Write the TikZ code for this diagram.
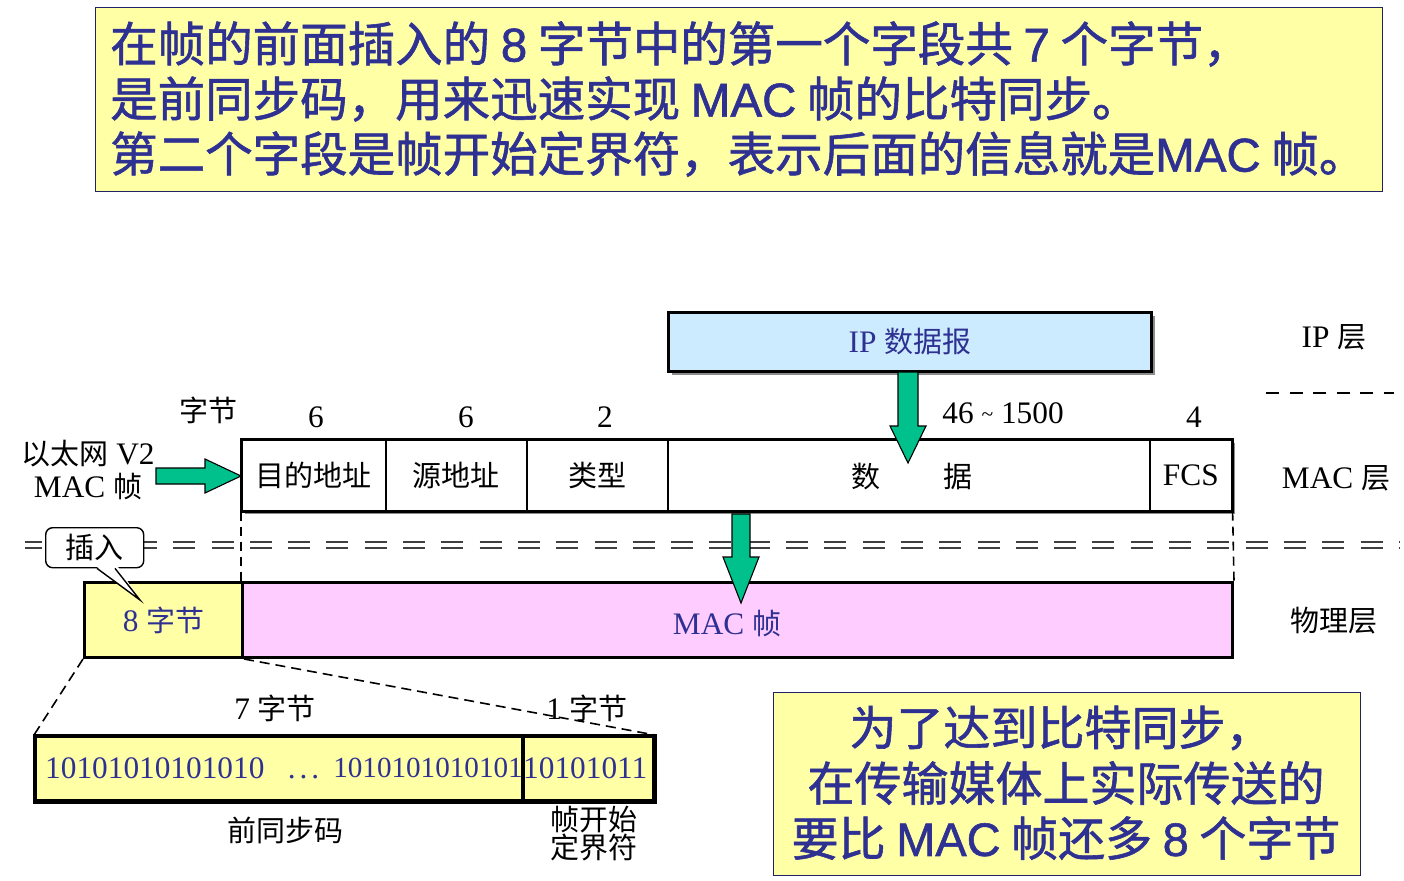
\documentclass[tikz,border=0pt]{standalone}
\usepackage{fontspec}
\setmainfont{Liberation Serif}[Scale=1.08]
\newfontfamily\zh{Noto Sans CJK SC}
\newfontfamily\hei{Noto Sans CJK SC}[FakeBold=1.2]
\newfontfamily\heilat{Liberation Sans}[FakeBold=1.2]
\usetikzlibrary{calc}
\definecolor{navy}{HTML}{2E3192}
\definecolor{boxyellow}{HTML}{FFFFA6}
\definecolor{pinkfill}{HTML}{FFCCFF}
\definecolor{ipblue}{HTML}{CCEBFF}
\definecolor{agreen}{HTML}{00C08C}
\definecolor{shadowgray}{HTML}{8C8C8C}
\begin{document}
\begin{tikzpicture}[x=1pt,y=-1pt,
  lbl/.style={font=\fontsize{29}{31}\selectfont, inner sep=0pt, align=center},
  toptext/.style={font=\hei\fontsize{47.5}{55}\selectfont, text=navy, inner sep=0pt, anchor=west},
  notetext/.style={font=\hei\fontsize{47}{55}\selectfont, text=navy, inner sep=0pt},
  notebox/.style={draw=navy!70!black, line width=0.8pt, fill=boxyellow, inner sep=0pt, anchor=north west},
  cell/.style={draw=black, line width=1.6pt, minimum height=71pt, inner sep=0pt, anchor=north west, fill=white, font=\fontsize{29}{31}\selectfont},
  bigbox/.style={draw=black, line width=3pt, inner sep=0pt, anchor=north west},
  shadowbox/.style={fill=shadowgray, draw=none, inner sep=0pt, anchor=north west},
  fat/.style={fill=agreen, draw=black, line width=1.1pt, line join=miter},
  ddash/.style={draw=black!75, line width=1.7pt, dash pattern=on 22pt off 16.3pt},
  vdash/.style={draw=black, line width=1.6pt, dash pattern=on 9pt off 6pt},
  zoomdash/.style={draw=black, line width=1.6pt, dash pattern=on 10pt off 6pt},
]
\fill[white] (0,0) rectangle (1404,880);
\useasboundingbox (0,0) rectangle (1404,880);

% ---------- top note ----------
\node[notebox, minimum width=1287pt, minimum height=184pt] (topnote) at (95,7) {};
\node[toptext] (t1) at (110,44) {在帧的前面插入的 {\heilat 8} 字节中的第一个字段共 {\heilat 7} 个字节，};
\node[toptext] (t2) at (110,99) {是前同步码，用来迅速实现 {\heilat MAC} 帧的比特同步。};
\node[toptext] (t3) at (110,154) {第二个字段是帧开始定界符，表示后面的信息就是{\heilat MAC} 帧。};

% ---------- IP layer ----------
\node[shadowbox, minimum width=483pt, minimum height=59pt] (ipsh) at (672,316) {};
\node[bigbox, fill=ipblue, minimum width=483pt, minimum height=59pt, font=\fontsize{29}{31}\selectfont, text=navy] (ip) at (667,311) {IP {\zh 数据报}};
\node[lbl] (iplayer) at (1334,337) {IP {\zh 层}};
\coordinate (ipdA) at (1266,393);
\coordinate (ipdB) at (1394,393);
\draw[draw=black, line width=1.6pt, dash pattern=on 13pt off 10.5pt] (ipdA) -- (ipdB);

% ---------- MAC frame ----------
\node[shadowbox, minimum width=990pt, minimum height=71pt] (macsh) at (245,443) {};
\node[cell, minimum width=144pt] (dst) at (241,439) {\zh 目的地址};
\node[cell, minimum width=141pt] (src) at (385,439) {\zh 源地址};
\node[cell, minimum width=141pt] (typ) at (526,439) {\zh 类型};
\node[cell, minimum width=482pt] (dat) at (667,439) {};
\node[cell, minimum width=82pt] (fcs) at (1149,439) {FCS};
\node[lbl] (shu) at (866,477) {\zh 数};
\node[lbl] (ju) at (958,477) {\zh 据};
\draw[line width=3pt] (dst.north west) rectangle (fcs.south east);

% byte counts
\node[lbl] (zj) at (208,410) {\zh 字节};
\node[lbl] (n1) at (316,417) {6};
\node[lbl] (n2) at (466,417) {6};
\node[lbl] (n3) at (605,417) {2};
\node[lbl] (n4) at (1003,413) {46 \raisebox{2pt}{\fontsize{20}{20}\selectfont\char"7E} 1500};
\node[lbl] (n5) at (1194,417) {4};

\node[lbl] (eth1) at (88,454) {{\zh 以太网} V2};
\node[lbl] (eth2) at (88,487) {MAC {\zh 帧}};
\node[lbl] (maclayer) at (1336,478) {MAC {\zh 层}};

% horizontal fat arrow into frame
\coordinate (hs) at (156,476);
\draw[fat] ($(hs)+(0,-8)$) -- ($(hs)+(49,-8)$) -- ($(hs)+(49,-17)$) -- (dst.west |- hs) -- ($(hs)+(49,17)$) -- ($(hs)+(49,8)$) -- ($(hs)+(0,8)$) -- cycle;

% fat arrow IP -> data
\coordinate (va) at (908,372);
\draw[fat] ($(va)+(-10,0)$) -- ($(va)+(-10,54)$) -- ($(va)+(-18,54)$) -- ($(va)+(0,91)$) -- ($(va)+(18,54)$) -- ($(va)+(10,54)$) -- ($(va)+(10,0)$) -- cycle;

% ---------- layer separator ----------
\coordinate (sepA) at (25,542);
\coordinate (sepB) at (1400,542);
\draw[ddash, dash phase=5pt] (sepA) -- (sepB);
\draw[ddash, dash phase=5pt] ($(sepA)+(0,6)$) -- ($(sepB)+(0,6)$);

% ---------- physical layer ----------
\node[bigbox, fill=boxyellow, minimum width=158pt, minimum height=75pt, font=\fontsize{29}{31}\selectfont, text=navy] (pre8) at (83,581) {8 {\zh 字节}};
\node[bigbox, fill=pinkfill, minimum width=990pt, minimum height=75pt] (phy) at (241,581) {};
\node[lbl, text=navy] (phytext) at (727,624) {MAC {\zh 帧}};
\node[lbl] (phylayer) at (1334,621) {\zh 物理层};

% vertical dashed guides
\draw[vdash] (dst.south west) -- (phy.north west);
\draw[vdash] (fcs.south east) -- (phy.north east);

% fat arrow frame -> physical
\coordinate (vb) at (741,514);
\draw[fat] ($(vb)+(-9,0)$) -- ($(vb)+(-9,43)$) -- ($(vb)+(-18,43)$) -- ($(vb)+(0,89)$) -- ($(vb)+(18,43)$) -- ($(vb)+(9,43)$) -- ($(vb)+(9,0)$) -- cycle;

% callout
\node[draw=black, line width=1.4pt, fill=white, rounded corners=7pt, minimum width=98pt, minimum height=40pt, inner sep=0pt, anchor=north west, font=\zh\fontsize{29}{31}\selectfont] (ins) at (45,527) {插入};
\coordinate (instip) at (140,600);
\fill[white] ($(ins.south west)+(50,-3)$) -- (instip) -- ($(ins.south west)+(72,-3)$) -- cycle;
\draw[line width=1.4pt, line join=miter] ($(ins.south west)+(52,0)$) -- (instip) -- ($(ins.south west)+(70,0)$);

% ---------- zoomed preamble ----------
\node[bigbox, fill=boxyellow, minimum width=488pt, minimum height=64pt] (pa) at (34,735) {};
\node[bigbox, fill=boxyellow, minimum width=130pt, minimum height=64pt] (sfd) at (522,735) {};
\node[lbl, text=navy, anchor=west] (bitsA) at (45,768) {10101010101010};
\node[lbl, text=navy, anchor=base west] (dots) at ([xshift=23pt]bitsA.base east) {.\hspace{4pt}.\hspace{4pt}.};
\node[lbl, text=navy, anchor=east, font=\fontsize{27}{31}\selectfont] (bitsB) at (523,768) {1010101010101};
\node[lbl, text=navy, anchor=west] (sfdbits) at (523,768) {10101011};
\draw[line width=3pt] (pa.north west) rectangle (sfd.south east);
\draw[line width=1.6pt] (sfd.north west) -- (sfd.south west);
\draw[zoomdash] (pre8.south west) -- (pa.north west);
\draw[zoomdash] (pre8.south east) -- (sfd.north east);
\node[lbl] (b7) at (275,708) {7 {\zh 字节}};
\node[lbl] (b1) at (587,708) {1 {\zh 字节}};
\node[lbl, font=\zh\fontsize{29}{31}\selectfont] (pname) at (285,830) {前同步码};
\node[lbl, font=\zh\fontsize{29}{31}\selectfont] (sname) at (594,834) {帧开始\\[-3pt]定界符};

% ---------- bottom note ----------
\node[notebox, minimum width=587pt, minimum height=183pt] (note) at (773,692) {};
\node[notetext] (n1l) at (1061,728) {为了达到比特同步，};
\node[notetext] (n2l) at (1066,783) {在传输媒体上实际传送的};
\node[notetext] (n3l) at (1066,838) {要比 {\heilat MAC} 帧还多 {\heilat 8} 个字节};
\end{tikzpicture}
\end{document}
